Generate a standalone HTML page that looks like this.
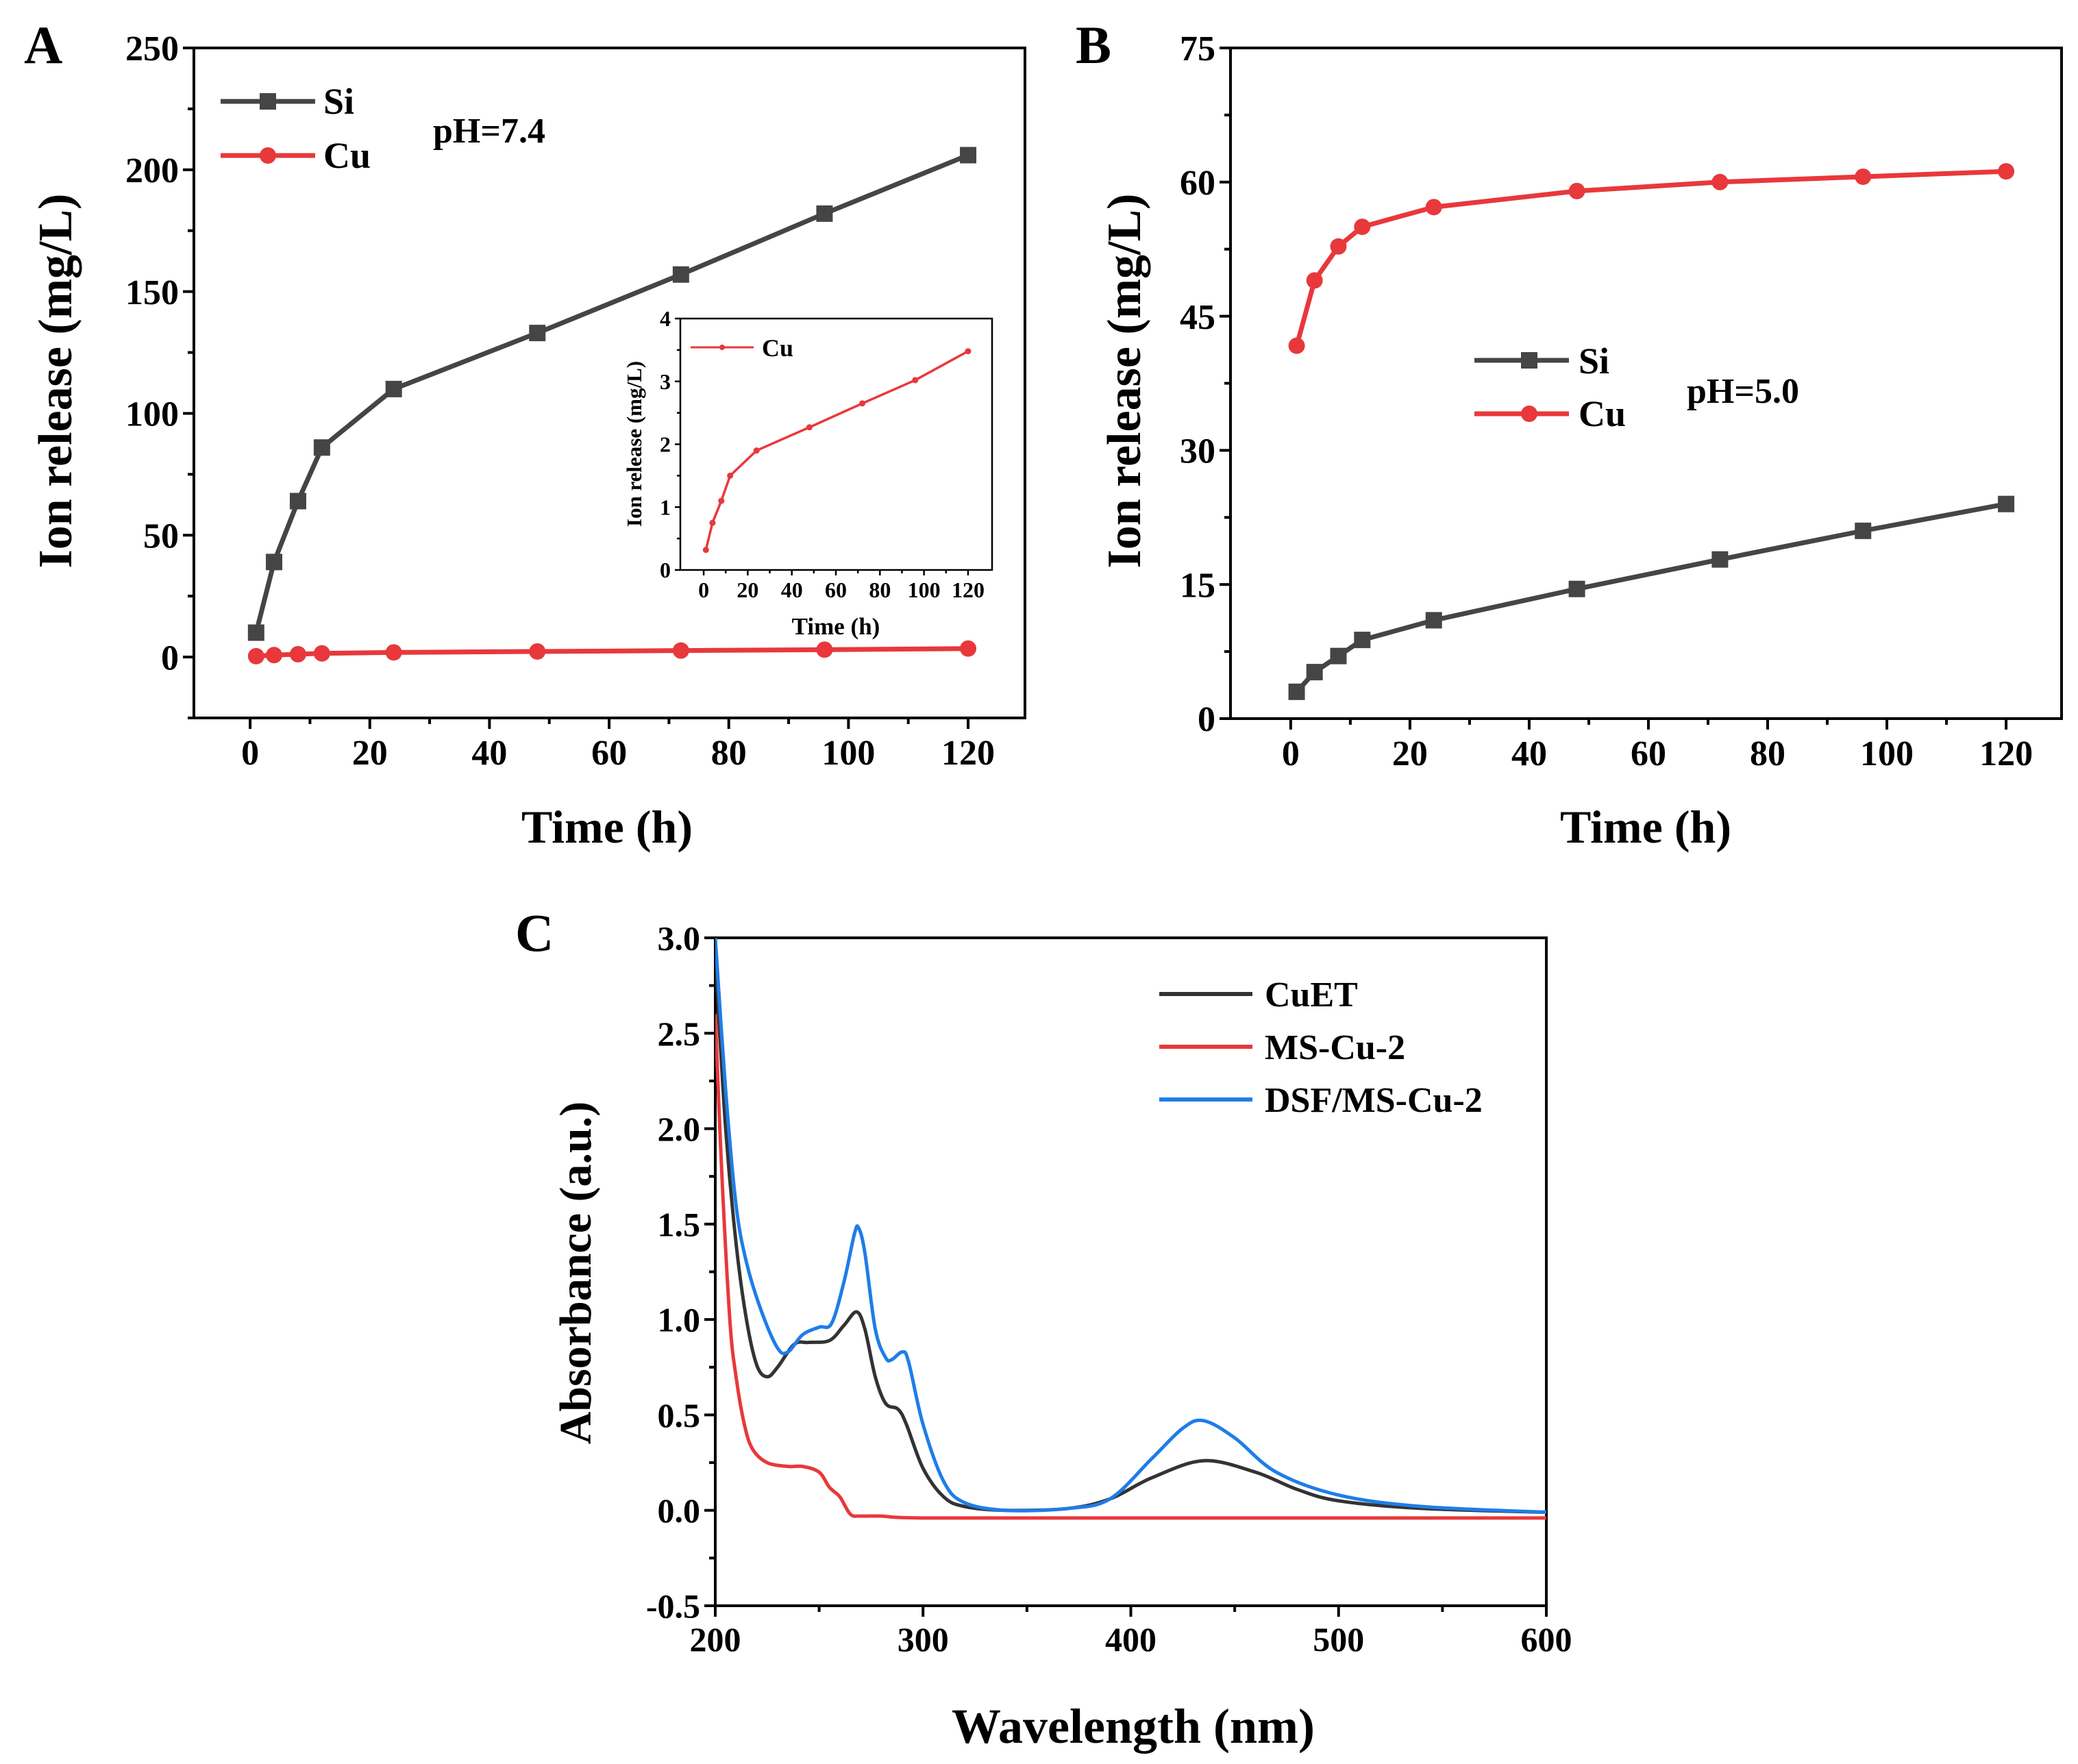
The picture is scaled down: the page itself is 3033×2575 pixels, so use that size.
<!DOCTYPE html>
<html><head><meta charset="utf-8"><style>
html,body{margin:0;padding:0;background:#fff;}
svg{display:block;font-family:"Liberation Serif",serif;font-weight:bold;}
</style></head><body>
<svg id="fig" xmlns="http://www.w3.org/2000/svg" width="3033" height="2575" viewBox="0 0 3033 2575"></svg>
<script>
const timeH=[1,4,8,12,24,48,72,96,120];
const siA=[10,39,64,86,110,133,157,182,206];
const cuA=[0.35,0.8,1.15,1.5,1.9,2.28,2.65,3.02,3.48];
const cuInset=[0.32,0.75,1.1,1.5,1.9,2.27,2.65,3.02,3.48];
const siB=[3,5.2,7,8.8,11,14.5,17.8,21,24];
const cuB=[41.7,49,52.8,55,57.2,59,60,60.6,61.2];
const ticksTimeX=[0,20,40,60,80,100,120];
const ticksA=[0,50,100,150,200,250];
const ticksInset=[0,1,2,3,4];
const ticksB=[0,15,30,45,60,75];
const ticksWl=[200,300,400,500,600];
const ticksAbs=[-0.5,0.0,0.5,1.0,1.5,2.0,2.5,3.0];
const tickAbsLabels=["-0.5","0.0","0.5","1.0","1.5","2.0","2.5","3.0"];
const wlCuET=[200,205,210,215,220,225,230,238,245,255,262,268,272,277,282,288,292,300,310,320,340,370,390,410,435,460,480,500,540,600];
const absCuET=[2.9,2.0,1.4,1.0,0.76,0.7,0.75,0.87,0.88,0.89,0.97,1.04,0.95,0.7,0.56,0.53,0.45,0.22,0.07,0.02,0.0,0.01,0.06,0.17,0.26,0.2,0.11,0.05,0.01,-0.01];
const wlDSF=[200,205,210,215,222,230,235,242,250,256,262,267,269,272,277,282,285,290,293,300,310,320,340,370,390,410,425,435,450,470,500,540,600];
const absDSF=[3.0,2.2,1.6,1.3,1.05,0.85,0.83,0.92,0.96,0.98,1.2,1.45,1.48,1.35,0.95,0.8,0.79,0.83,0.78,0.45,0.15,0.04,0.0,0.01,0.06,0.27,0.43,0.47,0.38,0.2,0.08,0.02,-0.01];
const wlMS=[200,203,207,210,214,218,225,235,242,250,255,260,265,270,280,300,400,600];
const absMS=[2.6,1.8,1.0,0.7,0.45,0.32,0.25,0.23,0.23,0.2,0.12,0.07,-0.02,-0.03,-0.03,-0.04,-0.04,-0.04];

const NS="http://www.w3.org/2000/svg";
const svg=document.getElementById('fig');
function el(tag,attrs,parent,text){const e=document.createElementNS(NS,tag);for(const k in attrs)e.setAttribute(k,attrs[k]);if(text!==undefined)e.textContent=text;(parent||svg).appendChild(e);return e;}
function scale(d0,d1,r0,r1){return v=>r0+(v-d0)/(d1-d0)*(r1-r0);}

function axes(g,box,xs,ys,xt,yt,xl,yl,fs,minorX,minorY,tl){
  const [L,T,R,B]=box;
  const f=el('rect',{x:L,y:T,width:R-L,height:B-T,fill:'none',stroke:'#000','stroke-width':tl.w},g);
  
  xt.forEach((v,i)=>{const x=xs(v);el('line',{x1:x,y1:B,x2:x,y2:B+tl.maj,stroke:'#000','stroke-width':tl.w},g);
    const t=el('text',{x:x,y:B+tl.maj+fs*1.0,'font-size':fs,'text-anchor':'middle'},g,xl[i]);
    });
  minorX.forEach(v=>{const x=xs(v);el('line',{x1:x,y1:B,x2:x,y2:B+tl.min,stroke:'#000','stroke-width':tl.w},g);});
  yt.forEach((v,i)=>{const y=ys(v);el('line',{x1:L,y1:y,x2:L-tl.maj,y2:y,stroke:'#000','stroke-width':tl.w},g);
    const t=el('text',{x:L-tl.maj-6,y:y+fs*0.35,'font-size':fs,'text-anchor':'end'},g,yl[i]);
    });
  minorY.forEach(v=>{const y=ys(v);el('line',{x1:L,y1:y,x2:L-tl.min,y2:y,stroke:'#000','stroke-width':tl.w},g);});
}
function series(g,xs,ys,X,Y,color,w,name){
  const p=el('polyline',{points:X.map((x,i)=>xs(x)+','+ys(Y[i])).join(' '),fill:'none',stroke:color,'stroke-width':w,'stroke-linejoin':'round'},g);
  
}
function smooth(g,xs,ys,X,Y,color,w,name){
  const P=X.map((x,i)=>[xs(x),ys(Y[i])]);
  let d='M'+P[0][0]+','+P[0][1];
  for(let i=0;i<P.length-1;i++){const p0=P[Math.max(0,i-1)],p1=P[i],p2=P[i+1],p3=P[Math.min(P.length-1,i+2)];
    const c1=[p1[0]+(p2[0]-p0[0])/6,p1[1]+(p2[1]-p0[1])/6],c2=[p2[0]-(p3[0]-p1[0])/6,p2[1]-(p3[1]-p1[1])/6];
    d+=' C'+c1[0]+','+c1[1]+' '+c2[0]+','+c2[1]+' '+p2[0]+','+p2[1];}
  const p=el('path',{d:d,fill:'none',stroke:color,'stroke-width':w,'stroke-linejoin':'round'},g);
  
}
function markers(g,xs,ys,X,Y,color,shape,s,name){
  X.forEach((x,i)=>{const cx=xs(x),cy=ys(Y[i]);let m;
    if(shape==='sq')m=el('rect',{x:cx-s/2,y:cy-s/2,width:s,height:s,fill:color},g);
    else m=el('circle',{cx:cx,cy:cy,r:s/2,fill:color},g);
    });
}
function txt(x,y,s,fs,name,anchor,rot){const a={x:x,y:y,'font-size':fs,'text-anchor':anchor||'start'};if(rot)a.transform='rotate(-90 '+x+' '+y+')';
  const t=el('text',a,svg,s);return t;}
function range(a,b,s){const r=[];for(let v=a;v<=b+1e-9;v+=s)r.push(v);return r;}
const GRAY='#454545',RED='#e8383b',BLUE='#1f7de8',BLK='#333';

// Panel A
const gA=el('g',{});
const xA=scale(-9.4,129.5,283,1496), yA=scale(-25,250,1048,70);
axes(gA,[283,70,1496,1048],xA,yA,ticksTimeX,ticksA,ticksTimeX.map(String),ticksA.map(String),52,range(10,110,20),range(-25,225,25).filter(v=>v%50!==0),{w:4,maj:16,min:9});
series(gA,xA,yA,timeH,siA,GRAY,7,'si-line-a');markers(gA,xA,yA,timeH,siA,GRAY,'sq',24,'si-marker-a');
series(gA,xA,yA,timeH,cuA,RED,7,'cu-line-a');markers(gA,xA,yA,timeH,cuA,RED,'c',24,'cu-marker-a');
txt(35,92,'A',78,'panel-label-a');
txt(104,556,'Ion release (mg/L)',70,'y-axis-title-a','middle',true);
txt(886,1230,'Time (h)',68,'x-axis-title-a','middle');
el('line',{x1:322,y1:148,x2:460,y2:148,stroke:GRAY,'stroke-width':7});el('rect',{x:379,y:136,width:24,height:24,fill:GRAY});
txt(472,166,'Si',54,'legend-si-a');
el('line',{x1:322,y1:227,x2:460,y2:227,stroke:RED,'stroke-width':7});el('circle',{cx:391,cy:227,r:12,fill:RED});
txt(472,245,'Cu',54,'legend-cu-a');
txt(632,208,'pH=7.4',52,'ph-label-a');
// Inset
const gI=el('g',{});
const xI=scale(-10.6,130.9,993,1448), yI=scale(0,4,832,465);
el('rect',{x:993,y:465,width:455,height:367,fill:'#fff'},gI);
axes(gI,[993,465,1448,832],xI,yI,ticksTimeX,ticksInset,ticksTimeX.map(String),ticksInset.map(String),32,range(10,110,20),range(0.5,3.5,1),{w:2.5,maj:8,min:5});
series(gI,xI,yI,timeH,cuInset,RED,3.5,'cu-line-inset');markers(gI,xI,yI,timeH,cuInset,RED,'c',9,'cu-marker-inset');
txt(936,648,'Ion release (mg/L)',31,'y-axis-title-inset','middle',true);
txt(1220,926,'Time (h)',35,'x-axis-title-inset','middle');
el('line',{x1:1008,y1:507,x2:1100,y2:507,stroke:RED,'stroke-width':3});el('circle',{cx:1054,cy:507,r:4,fill:RED});
txt(1112,520,'Cu',36,'legend-cu-inset');

// Panel B
const gB=el('g',{});
const xB=scale(-10.1,129.3,1796,3009), yB=scale(0,75,1049,70);
axes(gB,[1796,70,3009,1049],xB,yB,ticksTimeX,ticksB,ticksTimeX.map(String),ticksB.map(String),52,range(10,110,20),range(7.5,67.5,15),{w:4,maj:16,min:9});
series(gB,xB,yB,timeH,siB,GRAY,7,'si-line-b');markers(gB,xB,yB,timeH,siB,GRAY,'sq',24,'si-marker-b');
series(gB,xB,yB,timeH,cuB,RED,7,'cu-line-b');markers(gB,xB,yB,timeH,cuB,RED,'c',24,'cu-marker-b');
txt(1570,92,'B',78,'panel-label-b');
txt(1664,556,'Ion release (mg/L)',70,'y-axis-title-b','middle',true);
txt(2402,1230,'Time (h)',68,'x-axis-title-b','middle');
el('line',{x1:2152,y1:526,x2:2290,y2:526,stroke:GRAY,'stroke-width':7});el('rect',{x:2220,y:514,width:24,height:24,fill:GRAY});
txt(2304,545,'Si',54,'legend-si-b');
el('line',{x1:2152,y1:604,x2:2290,y2:604,stroke:RED,'stroke-width':7});el('circle',{cx:2232,cy:604,r:12,fill:RED});
txt(2304,622,'Cu',54,'legend-cu-b');
txt(2462,588,'pH=5.0',52,'ph-label-b');

// Panel C
const gC=el('g',{});
const xC=scale(200,600,1044,2257), yC=scale(-0.5,3.0,2344,1369);
const cp=el('clipPath',{id:'clipC'},gC);el('rect',{x:1044,y:1369,width:1213,height:975},cp);
axes(gC,[1044,1369,2257,2344],xC,yC,ticksWl,ticksAbs,ticksWl.map(String),tickAbsLabels,50,range(250,550,100),range(-0.25,2.75,0.5),{w:4,maj:16,min:9});
const gS=el('g',{'clip-path':'url(#clipC)'},gC);
smooth(gS,xC,yC,wlMS,absMS,RED,5,'ms-cu-2-line');
smooth(gS,xC,yC,wlCuET,absCuET,BLK,5,'cuet-line');
smooth(gS,xC,yC,wlDSF,absDSF,BLUE,5,'dsf-ms-cu-2-line');
txt(752,1388,'C',78,'panel-label-c');
txt(862,1858,'Absorbance (a.u.)',66,'y-axis-title-c','middle',true);
txt(1654,2544,'Wavelength (nm)',72,'x-axis-title-c','middle');
el('line',{x1:1692,y1:1451,x2:1828,y2:1451,stroke:BLK,'stroke-width':6});txt(1846,1469,'CuET',52,'legend-cuet');
el('line',{x1:1692,y1:1528,x2:1828,y2:1528,stroke:RED,'stroke-width':6});txt(1846,1546,'MS-Cu-2',52,'legend-ms-cu-2');
el('line',{x1:1692,y1:1605,x2:1828,y2:1605,stroke:BLUE,'stroke-width':6});txt(1846,1623,'DSF/MS-Cu-2',52,'legend-dsf-ms-cu-2');
</script>
</body></html>
